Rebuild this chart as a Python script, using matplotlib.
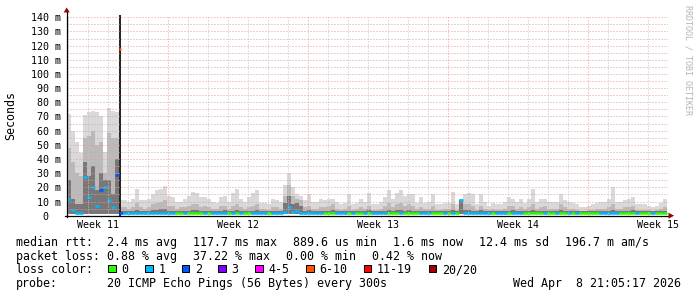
import numpy as np
import matplotlib.pyplot as plt
from matplotlib.patches import Rectangle
from matplotlib.transforms import blended_transform_factory

# ---- data (30 day smokeping graph, bins of 0.2 days) ----
bin_days = 0.2
smoke_top = [
    72, 60, 52, 44, 71, 73, 74, 73, 70, 45,
    76, 74, 73, 11, 11, 10, 12, 19, 11, 11,
    12, 15, 18, 19, 21, 14, 13, 10, 10, 12,
    14, 17, 16, 13, 13, 12, 10, 9, 13, 14,
    10, 16, 19, 12, 10, 13, 16, 18, 9, 9,
    8, 12, 11, 10, 22, 30, 20, 15, 14, 11,
    15, 10, 10, 12, 11, 12, 12, 10, 8, 9,
    15, 8, 9, 12, 10, 16, 8, 8, 10, 13,
    18, 12, 16, 18, 14, 15, 15, 9, 13, 9,
    10, 15, 8, 8, 9, 9, 17, 8, 12, 15,
    16, 15, 8, 15, 10, 7, 9, 8, 8, 10,
    13, 12, 10, 12, 9, 12, 19, 10, 12, 12,
    10, 10, 10, 15, 11, 10, 9, 8, 6, 6,
    7, 8, 9, 10, 10, 12, 20, 10, 10, 11,
    12, 13, 8, 8, 8, 7, 6, 7, 9, 12,
]
smoke_mid = [
    48, 38, 30, 28, 55, 56, 60, 50, 52, 30,
    58, 55, 55, 6, 6, 5, 6, 9, 6, 5,
    6, 8, 9, 10, 11, 7, 7, 5, 6, 6,
    7, 8, 8, 6, 7, 6, 5, 5, 7, 7,
    5, 7, 8, 6, 5, 6, 7, 8, 5, 5,
    4, 6, 6, 5, 14, 22, 14, 12, 11, 6,
    7, 5, 5, 6, 6, 7, 8, 5, 4, 5,
    7, 4, 5, 6, 5, 7, 4, 4, 5, 7,
    9, 6, 8, 9, 7, 8, 7, 5, 6, 5,
    5, 7, 4, 4, 5, 5, 8, 4, 12, 8,
    8, 7, 4, 7, 5, 4, 5, 4, 4, 5,
    7, 7, 5, 6, 5, 6, 8, 5, 6, 7,
    5, 5, 5, 8, 6, 5, 5, 4, 3, 3,
    4, 4, 5, 5, 5, 6, 8, 5, 5, 6,
    6, 7, 4, 4, 4, 4, 3, 4, 5, 6,
]
smoke_dark = [
    25, 12, 8, 8, 38, 28, 35, 18, 30, 25,
    25, 15, 40, 3, 3, 3, 3, 4, 3, 3,
    3, 4, 4, 5, 5, 3, 3, 3, 3, 3,
    3, 4, 4, 3, 3, 3, 3, 3, 3, 4,
    3, 3, 4, 3, 3, 3, 3, 4, 3, 3,
    3, 3, 3, 3, 9, 14, 8, 9, 7, 3,
    4, 3, 3, 3, 3, 3, 4, 3, 3, 3,
    3, 3, 3, 3, 3, 4, 3, 3, 3, 3,
    4, 3, 4, 4, 3, 4, 3, 3, 3, 3,
    3, 3, 3, 3, 3, 3, 4, 3, 11, 4,
    4, 3, 3, 4, 3, 3, 3, 3, 3, 3,
    3, 4, 3, 3, 3, 3, 4, 3, 3, 3,
    3, 3, 3, 4, 3, 3, 3, 3, 3, 3,
    3, 3, 3, 3, 3, 3, 4, 3, 3, 3,
    3, 4, 3, 3, 3, 3, 3, 3, 3, 3,
]
median_ms = [
    12, 4, 2, 2, 27, 13, 20, 7, 18, 20,
    11, 6, 29, 2.0, 1.8, 1.7, 1.9, 2.1, 1.8, 1.7,
    1.8, 2.0, 2.2, 2.1, 2.0, 1.9, 1.7, 1.6, 1.6, 1.8,
    1.6, 1.7, 1.6, 1.7, 1.8, 1.6, 1.7, 1.8, 1.8, 1.9,
    1.6, 1.8, 1.7, 1.8, 1.6, 1.7, 1.8, 1.9, 1.8, 1.7,
    1.6, 1.7, 1.8, 1.8, 2.6, 6.0, 2.4, 3.5, 2.2, 1.8,
    1.9, 1.8, 1.7, 1.8, 1.6, 1.6, 1.7, 1.8, 1.7, 1.8,
    1.6, 1.7, 1.6, 1.6, 1.8, 1.6, 1.8, 1.7, 1.8, 1.8,
    1.6, 1.6, 1.7, 1.9, 1.6, 1.6, 1.7, 1.6, 1.8, 1.8,
    1.7, 1.6, 1.6, 1.6, 1.8, 1.6, 1.9, 1.6, 11.0, 2.0,
    1.9, 1.8, 1.8, 1.9, 1.8, 1.7, 1.6, 1.8, 1.8, 1.7,
    1.6, 1.8, 1.8, 1.8, 1.6, 1.6, 1.7, 1.6, 1.6, 1.8,
    1.6, 1.6, 1.8, 1.6, 1.6, 1.8, 1.6, 1.7, 1.6, 1.6,
    1.6, 1.6, 1.6, 1.8, 1.8, 1.8, 1.9, 1.8, 1.6, 1.6,
    1.6, 1.6, 1.7, 1.6, 1.6, 1.6, 1.7, 1.6, 1.6, 1.6,
]
loss = [
    1, 1, 1, 1, 1, 1, 1, 1, 2, 1,
    1, 1, 2, 2, 1, 1, 1, 1, 1, 1,
    1, 1, 1, 1, 1, 1, 1, 0, 0, 1,
    0, 0, 0, 0, 1, 0, 1, 1, 1, 1,
    0, 1, 0, 1, 0, 0, 1, 1, 1, 1,
    0, 1, 1, 1, 1, 1, 1, 1, 1, 1,
    1, 1, 1, 1, 0, 0, 0, 1, 1, 1,
    0, 1, 0, 0, 1, 0, 1, 1, 1, 1,
    0, 0, 0, 1, 0, 0, 0, 0, 1, 1,
    1, 0, 0, 0, 1, 0, 1, 0, 1, 1,
    1, 1, 1, 1, 1, 1, 0, 1, 1, 1,
    0, 1, 1, 1, 0, 0, 0, 0, 0, 1,
    0, 0, 1, 0, 0, 1, 0, 1, 0, 0,
    0, 0, 0, 1, 1, 1, 1, 1, 0, 0,
    0, 0, 1, 0, 0, 0, 1, 0, 0, 0,
]
min_rtt = 0.9

# the big outlier
spike_day = 2.65
spike_top = 141.6
spike_median = 117.7
spike_loss = 8

y_top_ms = 141.6
y_ticks = list(range(0, 141, 10))
y_tick_labels = [f'{v} m' if v else '0  ' for v in y_ticks]
span_days = 30.065
first_midnight = 0.065
first_week_index = 5
week_labels = ['Week 11', 'Week 12', 'Week 13', 'Week 14', 'Week 15']

loss_labels = ['0', '1', '2', '3', '4-5', '6-10', '11-19', '20/20']
loss_upper = [0, 1, 2, 3, 5, 10, 19, 20]
loss_colors = ['#26ff00', '#00b8ff', '#0059ff', '#7e00ff', '#ff00ff', '#ff5500', '#ff0000', '#a00000']

rtt_stats = ['2.4 ms avg', '117.7 ms max', '889.6 us min', '1.6 ms now', '12.4 ms sd', '196.7 m am/s']
loss_stats = ['0.88 % avg', '37.22 % max', '0.00 % min', '0.42 % now']
probe_text = '20 ICMP Echo Pings (56 Bytes) every 300s'
stamp_text = 'Wed Apr  8 21:05:17 2026'


def color_for_loss(n):
    for up, c in zip(loss_upper, loss_colors):
        if n <= up:
            return c
    return loss_colors[-1]


W, H, DPI = 697, 297, 100
MONO = 'DejaVu Sans Mono'
GRID_RED = '#e89a9a'
GRID_GRAY = '#c4c4c4'
ARROW = '#990000'

fig = plt.figure(figsize=(W / DPI, H / DPI), dpi=DPI)
fig.patch.set_facecolor('white')

# plot area in pixels: x 66.7..668, y 15..215.7
x0, x1, yt, yb = 66.7, 668.0, 15.0, 215.7
ax = fig.add_axes([x0 / W, 1 - yb / H, (x1 - x0) / W, (yb - yt) / H])
ax.set_xlim(0, span_days)
ax.set_ylim(0, y_top_ms)
ax.axis('off')

n = len(smoke_top)
edges = np.arange(n + 1) * bin_days

# smoke, light to dark
ax.stairs(smoke_top, edges, baseline=min_rtt, fill=True, color='#d9d9d9', lw=0, zorder=1)
ax.stairs(smoke_mid, edges, baseline=min_rtt, fill=True, color='#bababa', lw=0, zorder=2)
ax.stairs(smoke_dark, edges, baseline=min_rtt, fill=True, color='#787878', lw=0, zorder=3)
ax.bar(spike_day, spike_top, width=0.1, bottom=0, color='#262626', lw=0, zorder=3)

# median coloured by loss
ax.hlines(median_ms, edges[:-1], edges[1:], colors=[color_for_loss(v) for v in loss],
          lw=1.9, zorder=4)
ax.hlines(spike_median, spike_day - 0.06, spike_day + 0.06, colors=color_for_loss(spike_loss),
          lw=1.9, zorder=4)

# grid (rrdtool draws it on top)
dots = (0, (1, 2))
for v in range(5, 141, 5):
    ax.axhline(v, color=GRID_RED, lw=0.72, ls=dots, zorder=6)
k = 0
while first_midnight + k < span_days:
    is_week = (k - first_week_index) % 7 == 0
    ax.axvline(first_midnight + k, color=GRID_RED if is_week else GRID_GRAY,
               lw=0.72, ls=dots, zorder=6)
    k += 1

# axes with arrows
ax.plot([0, 0], [-0.7, 145.0], color='black', lw=0.9, clip_on=False, zorder=7)
ax.plot([-0.11, 30.1], [0, 0], color='black', lw=0.9, clip_on=False, zorder=7)
ax.fill([-0.15, 0.15, 0], [143.4, 143.4, 146.9], color=ARROW, lw=0, clip_on=False, zorder=8)
ax.fill([30.09, 30.09, 30.37], [-2.1, 2.1, 0], color=ARROW, lw=0, clip_on=False, zorder=8)

# tick labels
for v, lab in zip(y_ticks, y_tick_labels):
    ax.text(-0.27, v, lab, family=MONO, fontsize=7.2, ha='right', va='center_baseline',
            clip_on=False)
tx = blended_transform_factory(ax.transData, fig.transFigure)
for j, lab in enumerate(week_labels):
    mid = first_midnight + first_week_index + 7 * (j - 1) + 3.5
    fig.text(mid, 1 - 228.3 / H, lab, transform=tx, family=MONO, fontsize=7.2,
             ha='center', va='baseline')

fig.text(10.5 / W, 1 - 115 / H, 'Seconds', family=MONO, fontsize=8.4, rotation=90,
         ha='center', va='center')
fig.text(688 / W, 1 - 60 / H, 'RRDTOOL / TOBI OETIKER', family=MONO, fontsize=6,
         rotation=-90, ha='center', va='center', color='#b4b4b4')

# legend block
LEG = 8.4
cw = 7.02
def ftext(x, y, s, **kw):
    fig.text(x / W, 1 - y / H, s, family=MONO, fontsize=LEG, va='baseline', **kw)

rows = [245.7, 259.6, 273.4, 287.3]
ftext(16, rows[0], 'median rtt:')
ftext(16, rows[1], 'packet loss:')
ftext(16, rows[2], 'loss color:')
ftext(16, rows[3], 'probe:')

for row, chunks in ((rows[0], rtt_stats), (rows[1], loss_stats)):
    x = 107.3
    for s in chunks:
        ftext(x, row, s)
        x += len(s) * cw + 15.8

x = 108.3
for lab, col in zip(loss_labels, loss_colors):
    fig.patches.append(Rectangle((x / W, 1 - 272.4 / H), 7.6 / W, 7.4 / H,
                                 transform=fig.transFigure, facecolor=col,
                                 edgecolor='black', lw=0.72))
    ftext(x + 13.2, rows[2], lab)
    x += 13.2 + len(lab) * cw + 16.5

ftext(107.3, rows[3], probe_text)
ftext(681, rows[3], stamp_text, ha='right')

fig.savefig('out.png', dpi=DPI, facecolor='white')
